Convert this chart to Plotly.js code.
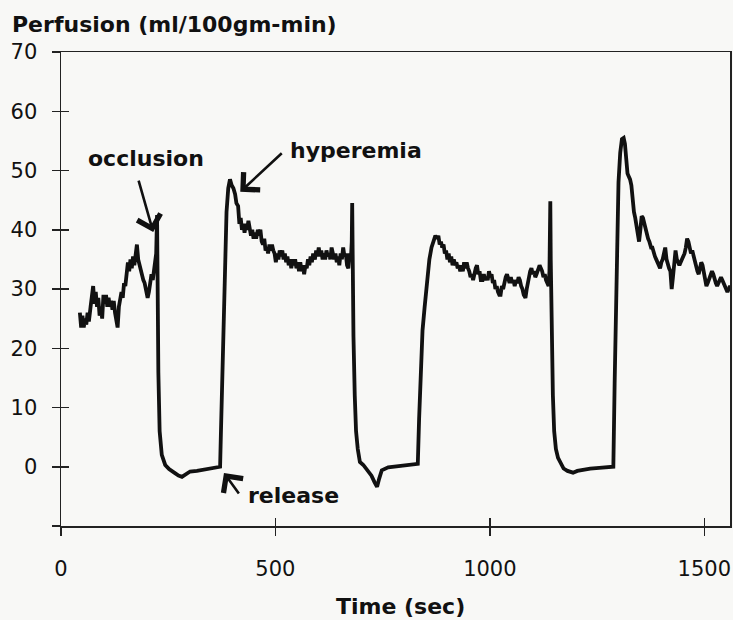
<!DOCTYPE html>
<html>
<head>
<meta charset="utf-8">
<script src="https://cdn.plot.ly/plotly-3.0.1.min.js"></script>
<style>html,body{margin:0;padding:0;background:#f8f8f6;}#chart{width:733px;height:620px;}</style>
</head>
<body>
<div id="chart"></div>
<script>
// Time (sec)
var timeSec = [
 44,47,50,53,56,59,62,65,69,72,75,78,81,84,87,90,93,96,99,102,105,108,111,114,117,120,123,126,129,132,135,138,141,144,147,150,153,156,159,162,165,168,171,174,177,180,183,186,189,192,195,199,202,205,208,211,214,217,220,222,224,
 225,227,230,235,243,252,264,274,282,292,301,317,333,348,361,370,
 371,373,376,379,382,386,390,394,398,402,406,409,413,416,419,422,425,428,431,434,437,440,443,446,449,452,455,459,462,465,468,471,474,477,480,483,486,489,492,495,498,501,504,507,510,513,516,519,522,525,528,531,534,537,540,543,546,549,552,555,558,561,564,567,570,573,576,579,582,585,588,592,595,598,601,604,607,610,613,616,619,622,625,628,631,634,637,640,643,646,649,652,655,658,661,664,667,670,673,676,678,679,
 680,682,685,688,692,697,705,715,724,731,737,742,748,763,786,811,830,
 832,835,839,843,848,854,859,864,869,873,877,880,883,886,889,892,895,898,901,904,907,910,913,916,919,922,925,928,931,934,937,940,943,946,949,952,955,958,961,964,967,970,973,976,979,983,986,989,992,995,998,1001,1004,1007,1010,1013,1016,1019,1022,1025,1028,1031,1034,1037,1040,1043,1046,1049,1052,1055,1058,1061,1064,1067,1070,1073,1076,1079,1083,1086,1088,1091,1094,1097,1100,1103,1106,1109,1113,1116,1119,1122,1125,1128,1131,1134,1137,1139,1141,
 1142,1144,1147,1150,1154,1159,1164,1172,1181,1194,1204,1217,1234,1255,1272,1288,
 1291,1294,1297,1300,1304,1308,1312,1315,1318,1321,1324,1327,1330,1333,1336,1339,1342,1345,1348,1351,1354,1357,1360,1363,1366,1369,1372,1376,1379,1382,1385,1388,1391,1394,1397,1400,1403,1406,1409,1412,1415,1418,1421,1424,1427,1430,1433,1436,1439,1442,1445,1448,1451,1454,1457,1460,1463,1466,1469,1472,1475,1478,1481,1484,1487,1490,1493,1496,1499,1502,1505,1508,1512,1515,1518,1521,1524,1527,1530,1533,1536,1539,1542,1545,1548,1551,1554,1557,1560,1564
];
// Perfusion (ml/100gm-min)
var perfusion = [
 26,23.5,25.5,23.5,25,24,26,24.5,27,29,30.5,27.5,29.5,27,28.5,25.5,27,25,29,27.5,29,27,28.5,27,28,26.5,28,26,24.5,23.5,27,28,29.5,28.5,31,30.5,33,34.5,33,35,33.5,35.5,34,36.5,37.5,35,34,33.5,32.5,31.5,31,29.5,28.5,29.5,31,32.5,31.5,33,34,36,42.5,
 30,16,6,2,0.3,-0.4,-1,-1.5,-1.7,-1.2,-0.8,-0.7,-0.5,-0.3,-0.1,0,
 0,6,16,27,36,43,47,48.5,47.5,47,46,44.5,44,41,42,40,41,39.5,41,40,41.5,40.5,39,40,38.5,39.5,38.5,40,39,40,38,37.5,38.5,36.5,37,36,37.5,36.5,37.5,36.5,36,34.5,36,35,36.5,35.5,36.5,35,36,34.5,35.5,34,35,33.5,35,34,35,33.5,34.5,33,34.5,33,34,32.5,34,33.5,35,34,35.5,34.5,36,35,36.5,35.5,37,35.5,36.5,35,36,35,36.5,35.5,36,35,37,36,35,36,34.5,35.5,34,36,35,37,35.5,36,34,33.5,36,35,38,44.5,
 35,22,12,6,3,0.8,0.3,-0.6,-1.5,-2.6,-3.4,-2,-0.6,-0.1,0.1,0.3,0.5,
 0.5,8,17,23,27,32,35,37,38,39,38.5,39,37.5,38,37,37.5,36,36.5,35,36,34.5,35.5,34,35,34,34.5,33.5,34,33,34,33,34.5,33.5,34.5,33.5,33,32,32.5,31.5,33,33.5,34,32.5,33,31.5,31.5,32.5,31.5,32,31.5,33,32,32.5,31,31.5,30,30.5,29.5,29,29,30.5,30,31.5,32,32.5,31.5,31,32,31,31.5,30.5,31.5,31,32,31.5,30.5,30,29,28.5,30,31,32,33,33.5,32.5,33,32,32.5,33.5,34,33.5,33,32,32.5,31.5,31,30.5,33,44.8,
 35,22,12,6,3,1.5,0.7,-0.3,-0.7,-1,-0.7,-0.5,-0.3,-0.2,-0.1,0,
 14,28,40,48,53,55.3,55.5,54.5,52,49.5,49,48.5,47.5,45,43,42,40.5,39.5,38,40,42.3,42,41,40.5,39.5,38.5,38,37,37,36,35.5,35,34.5,34,33.5,34.5,35,36,37,35,34,33.5,33,30,32,35,36.5,35,34.5,34,34.5,35,35.5,36,37,38.5,38,37,36,36.5,35.5,34.5,33.5,33,32.5,33.5,34.5,34,33,31.5,30.5,31,32,32.5,33,32.5,31.5,31,30.5,31,31.5,32,31.5,31,30.5,30,29.5,30,30.5,30
];
var xTickVals = [0, 500, 1000, 1500];
var xTickText = ["0", "500", "1000", "1500"];
var yTickVals = [-10, 0, 10, 20, 30, 40, 50, 60, 70];
var yTickText = ["", "0", "10", "20", "30", "40", "50", "60", "70"];
var xTitle = "Time (sec)";
var yTitle = "Perfusion (ml/100gm-min)";
// labelled events: arrow head (time, perfusion)
var eventNames = ["occlusion", "hyperemia", "release"];
var eventTime = [215, 418, 380];
var eventValue = [39.6, 46.4, -1.05];

var ink = "#111";
var axisCol = "#222";
var tickFont = {family: "DejaVu Sans", size: 21, color: ink};
var boldFont = {family: "DejaVu Sans", size: 22, color: ink, weight: "bold"};

var traces = [
  {x: timeSec, y: perfusion, type: "scatter", mode: "lines",
   line: {color: ink, width: 3.8}, showlegend: false, hoverinfo: "skip"},
  {x: [null], y: [null], xaxis: "x2", yaxis: "y2", type: "scatter", mode: "lines",
   showlegend: false, hoverinfo: "skip"}
];

var xRange = [0, 1560];
var yRange = [-10, 70];

var arrowTail = [[-15, -53], [43, -40], [16, 22]];
var textPos = [[146, 158], [356, 150], [293, 495]]; // pixel centers
function px2paperX(p) { return (p - 61) / 669; }
function px2paperY(p) { return (526 - p) / 474; }

var annotations = [];
for (var i = 0; i < eventNames.length; i++) {
  annotations.push({x: eventTime[i], y: eventValue[i], xref: "x", yref: "y", text: "",
    showarrow: true, arrowhead: 4, arrowsize: 1.8, arrowwidth: 2.6, arrowcolor: ink,
    ax: arrowTail[i][0], ay: arrowTail[i][1], standoff: 0});
  annotations.push({x: px2paperX(textPos[i][0]), y: px2paperY(textPos[i][1]), xref: "paper", yref: "paper",
    text: "<b>" + eventNames[i] + "</b>", showarrow: false, xanchor: "center", yanchor: "middle",
    font: boldFont});
}
annotations.push({x: px2paperX(10), y: px2paperY(24), xref: "paper", yref: "paper",
  text: "<b>" + yTitle + "</b>", showarrow: false, xanchor: "left", yanchor: "middle", font: boldFont});
annotations.push({x: px2paperX(400), y: px2paperY(606), xref: "paper", yref: "paper",
  text: "<b>" + xTitle + "</b>", showarrow: false, xanchor: "center", yanchor: "middle", font: boldFont});

var layout = {
  width: 733, height: 620,
  margin: {l: 61, r: 3, t: 52, b: 94, pad: 0},
  paper_bgcolor: "#f8f8f6", plot_bgcolor: "#f8f8f6",
  showlegend: false,
  xaxis: {range: xRange, tickmode: "array", tickvals: xTickVals, ticktext: xTickText,
    ticks: "outside", ticklen: 8, tickwidth: 1.5, tickcolor: axisCol,
    showline: true, linewidth: 1.5, linecolor: axisCol, mirror: true,
    showgrid: false, zeroline: false, tickfont: tickFont, ticklabelstandoff: 15,
    ticklabeloverflow: "allow", fixedrange: true},
  yaxis: {range: yRange, tickmode: "array", tickvals: yTickVals, ticktext: yTickText,
    ticks: "outside", ticklen: 8, tickwidth: 1.5, tickcolor: axisCol,
    showline: true, linewidth: 1.5, linecolor: axisCol, mirror: true,
    showgrid: false, zeroline: false, tickfont: tickFont, ticklabelstandoff: 10,
    ticklabeloverflow: "allow", fixedrange: true},
  xaxis2: {overlaying: "x", anchor: "y2", side: "bottom", range: xRange, tickmode: "array", tickvals: xTickVals,
    ticks: "inside", ticklen: 8, tickwidth: 1.5, tickcolor: axisCol, showticklabels: false,
    showline: false, showgrid: false, zeroline: false, fixedrange: true},
  yaxis2: {overlaying: "y", anchor: "x2", side: "left", range: yRange, tickmode: "array", tickvals: yTickVals,
    ticks: "inside", ticklen: 8, tickwidth: 1.5, tickcolor: axisCol, showticklabels: false,
    showline: false, showgrid: false, zeroline: false, fixedrange: true},
  annotations: annotations
};

Plotly.newPlot("chart", traces, layout, {staticPlot: true, displayModeBar: false});
</script>
</body>
</html>
